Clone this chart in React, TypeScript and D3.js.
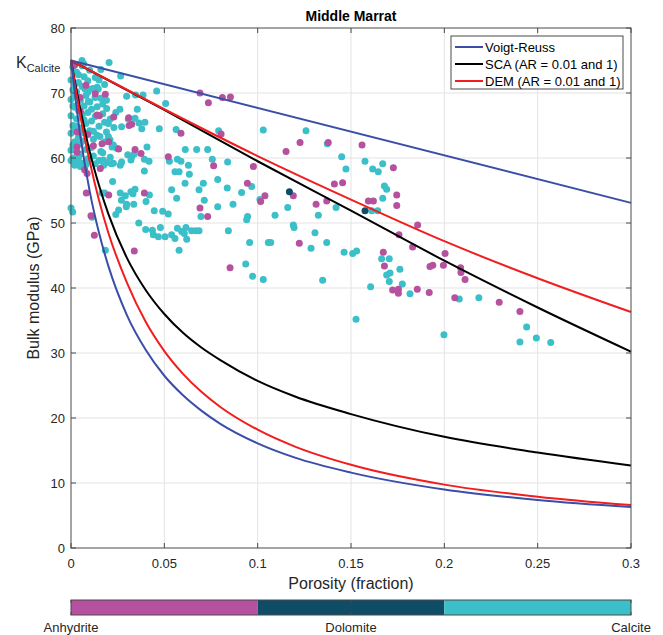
import React from "react";
import * as d3 from "d3";

// ---- model curves ----
const phiLow = [0, 0.005, 0.01, 0.015, 0.02, 0.03, 0.04, 0.05, 0.06, 0.07, 0.08, 0.1, 0.12, 0.15, 0.2, 0.25, 0.3];
const reussK = [75, 63.4, 54.9, 48.5, 43.4, 35.8, 30.5, 26.5, 23.5, 21.1, 19.1, 16.1, 13.9, 11.6, 9.0, 7.4, 6.3];
const demLowK = [75, 66.5, 59.5, 53.5, 48.5, 40.8, 34.8, 30.3, 26.8, 24.0, 21.7, 18.2, 15.6, 12.8, 9.75, 7.9, 6.6];
const scaLowK = [75, 67.5, 61, 55.8, 51.4, 44.6, 39.7, 36.0, 33.1, 30.8, 28.9, 25.7, 23.3, 20.6, 17.1, 14.7, 12.7];

const phiHigh = [0, 0.05, 0.1, 0.15, 0.2, 0.25, 0.3];
const scaHighK = [75, 67.4, 59.5, 51.9, 44.2, 37.0, 30.2];
const demHighK = [75, 67.5, 60.3, 53.6, 47.2, 41.5, 36.3];

const phiVoigt = [0, 0.3];
const voigtK = [75, 53.1];

// ---- well data: [porosity, bulk modulus] ----
const calcitePts: [number, number][] = [
  // dense low-porosity cluster
  [0.000, 72.0], [0.001, 70.5], [0.000, 69.0], [0.002, 67.8], [0.000, 66.5], [0.001, 65.0], [0.000, 63.8], [0.002, 62.5], [0.000, 61.2], [0.001, 60.0], [0.003, 59.3],
  [0.003, 73.2], [0.004, 71.6], [0.003, 70.2], [0.005, 68.9], [0.004, 67.3], [0.003, 66.0], [0.005, 64.6], [0.004, 63.2], [0.003, 61.8], [0.005, 60.6], [0.006, 59.2],
  [0.006, 74.2], [0.007, 72.5], [0.006, 71.0], [0.008, 69.6], [0.007, 68.0], [0.006, 66.7], [0.008, 65.3], [0.007, 63.9], [0.006, 62.6], [0.008, 61.3], [0.009, 59.9],
  [0.010, 73.5], [0.009, 71.9], [0.011, 70.6], [0.010, 68.6], [0.009, 67.0], [0.011, 65.7], [0.010, 64.2], [0.012, 62.9], [0.011, 61.6], [0.012, 60.3], [0.013, 59.1],
  [0.013, 72.4], [0.014, 67.9], [0.013, 66.4], [0.015, 64.9], [0.014, 63.5], [0.016, 61.0], [0.015, 59.6],
  [0.017, 68.3], [0.018, 65.5], [0.019, 64.0], [0.017, 60.8], [0.019, 59.3], [0.021, 60.1], [0.022, 61.7], [0.020, 63.3], [0.023, 64.7], [0.018, 71.3], [0.016, 73.6],
  [0.001, 74.0], [0.002, 71.3], [0.002, 64.3], [0.001, 62.0], [0.004, 60.0], [0.005, 62.2], [0.007, 65.9], [0.009, 70.1], [0.011, 67.5], [0.012, 64.1],
  [0.000, 59.6], [0.002, 58.9], [0.005, 58.7], [0.008, 59.0], [0.001, 68.0], [0.003, 64.9], [0.002, 69.5], [0.004, 72.8],
  [0.014, 70.9], [0.016, 69.2], [0.019, 68.9], [0.015, 72.0], [0.021, 66.0], [0.024, 67.0], [0.017, 66.8], [0.020, 65.3],
  [0.0204, 74.7], [0.0266, 72.6], [0.0059, 75.0], [0.0068, 74.5],
  [0.012, 70.7], [0.0146, 70.6], [0.0075, 70.6], [0.0129, 69.3], [0.0093, 68.7], [0.0191, 67.6], [0.0262, 67.5], [0.0271, 64.8],
  [0.0155, 63.3], [0.0182, 62.5], [0.0209, 62.8], [0.0227, 62.0], [0.0245, 61.5], [0.0271, 59.4], [0.0227, 59.2], [0.0173, 59.7],
  [0.0175, 58.9], [0.0216, 59.1], [0.0264, 58.9], [0.0223, 56.4], [0.0166, 54.6], [0.0180, 54.6], [0.0264, 54.6], [0.0270, 53.5], [0.0291, 54.2],
  [0.000, 52.3], [0.0009, 51.7], [0.0255, 52.0], [0.0296, 52.5], [0.0113, 50.9], [0.0184, 45.8], [0.0240, 51.3],
  // spread
  [0.0459, 70.3], [0.0298, 69.5], [0.0346, 69.7], [0.0386, 69.7], [0.0507, 68.4], [0.0355, 67.5], [0.0307, 66.0], [0.0343, 66.1], [0.0364, 65.4],
  [0.0396, 65.5], [0.0379, 64.5], [0.0473, 64.5], [0.0563, 64.4], [0.0791, 64.2], [0.103, 64.3], [0.0407, 61.7], [0.0304, 60.5], [0.0325, 60.2],
  [0.0339, 60.6], [0.0393, 59.8], [0.0418, 59.5], [0.0321, 59.7], [0.0527, 59.5], [0.0570, 59.8], [0.0589, 59.5], [0.0612, 61.3], [0.0673, 61.3],
  [0.0732, 61.3], [0.0629, 58.9], [0.0757, 59.8], [0.0839, 59.4], [0.0393, 58.0], [0.0557, 57.9], [0.0579, 57.9], [0.0634, 57.5],
  [0.0786, 56.7], [0.0611, 56.1], [0.0709, 56.1], [0.0968, 55.6], [0.0837, 55.4], [0.0321, 54.8], [0.0343, 55.2], [0.0332, 54.5], [0.0420, 54.3],
  [0.0539, 55.1], [0.0686, 55.1], [0.0914, 54.7], [0.0566, 53.8], [0.0714, 53.5], [0.0402, 53.3], [0.0298, 52.9], [0.0336, 52.9], [0.0868, 52.9],
  [0.1012, 53.6], [0.0446, 51.9], [0.0491, 51.8], [0.0521, 51.4], [0.0696, 51.0], [0.0946, 51.0], [0.0941, 50.5], [0.0363, 50.0], [0.0400, 49.0],
  [0.0436, 48.9], [0.0479, 49.3], [0.0441, 48.2], [0.0468, 47.9], [0.0504, 47.9], [0.0539, 48.2], [0.0557, 47.6], [0.0570, 49.2], [0.0593, 48.7],
  [0.0616, 49.3], [0.0607, 48.4], [0.0620, 47.5], [0.0646, 48.8], [0.0668, 48.8], [0.0686, 48.8], [0.0843, 48.8], [0.0957, 47.0], [0.0579, 45.8],
  [0.0936, 43.7], [0.0786, 52.5],
  [0.1259, 64.2], [0.1373, 62.2], [0.145, 60.2], [0.1575, 59.5], [0.167, 59.1], [0.1473, 58.3], [0.1616, 58.3], [0.1646, 57.9],
  [0.1679, 55.7], [0.1691, 55.2], [0.167, 53.8], [0.1611, 51.9], [0.1643, 51.9], [0.142, 52.4], [0.1161, 52.4], [0.1093, 51.2], [0.1325, 51.2],
  [0.1191, 49.7], [0.1195, 49.3], [0.1307, 48.5], [0.1057, 47.0], [0.107, 47.0], [0.137, 47.0], [0.1286, 46.1], [0.1463, 45.5], [0.1509, 45.3],
  [0.153, 45.7], [0.1664, 44.5], [0.1705, 44.5], [0.1762, 42.9], [0.1691, 42.0], [0.1709, 42.3], [0.1348, 41.2], [0.103, 41.3],
  [0.0973, 41.8], [0.1705, 41.0], [0.1605, 40.2], [0.1775, 40.6], [0.1816, 39.1], [0.1527, 35.2], [0.1998, 32.8],
  [0.208, 38.3], [0.2185, 38.5], [0.2441, 34.0], [0.2493, 32.3], [0.2405, 31.7], [0.257, 31.6],
];

const anhydritePts: [number, number][] = [
  [0.002, 74.3], [0.008, 71.2], [0.013, 69.9], [0.0184, 69.8], [0.0048, 69.3], [0.0152, 66.5], [0.0139, 66.6], [0.0229, 66.3], [0.0309, 66.2],
  [0.0032, 64.0], [0.0202, 62.5], [0.0166, 62.2], [0.0255, 61.4], [0.0032, 61.7], [0.0032, 60.9], [0.0073, 58.2], [0.0086, 57.6], [0.0157, 58.4],
  [0.0082, 54.6], [0.0202, 54.3], [0.0107, 51.1], [0.0125, 48.1], [0.005, 67.2], [0.009, 63.6], [0.012, 61.9],
  [0.0691, 70.0], [0.0736, 68.5], [0.0811, 69.3], [0.0854, 69.4], [0.0311, 65.0], [0.0325, 65.2], [0.0589, 63.8], [0.0804, 63.7], [0.0343, 61.3],
  [0.0375, 60.7], [0.0521, 60.2], [0.0764, 58.8], [0.0977, 58.7], [0.0945, 56.1], [0.0393, 54.6], [0.1016, 53.3], [0.0691, 52.3], [0.0732, 51.0],
  [0.0339, 45.7], [0.0852, 43.1],
  [0.1227, 62.4], [0.1152, 61.0], [0.1378, 62.4], [0.1559, 62.0], [0.1727, 58.5], [0.1411, 56.0], [0.1455, 56.2], [0.1745, 54.3], [0.1191, 54.2],
  [0.1039, 54.2], [0.1593, 53.4], [0.162, 53.4], [0.1745, 52.7], [0.1313, 52.9], [0.137, 53.4], [0.1857, 49.7], [0.1757, 48.2], [0.1223, 46.9],
  [0.183, 46.3], [0.1673, 45.5], [0.1679, 43.4], [0.2004, 45.3], [0.1923, 43.3], [0.1938, 43.5], [0.1995, 43.5],
  [0.1723, 39.7], [0.1754, 39.8], [0.1754, 39.2], [0.1855, 39.8], [0.1919, 39.3],
  [0.2087, 43.1], [0.2089, 42.4], [0.2111, 41.3], [0.2056, 38.5], [0.2294, 37.8], [0.2405, 36.4],
];

const dolomitePts: [number, number][] = [[0.117, 54.8], [0.1575, 51.9]];

const xTicks = [0, 0.05, 0.1, 0.15, 0.2, 0.25, 0.3];
const yTicks = [0, 10, 20, 30, 40, 50, 60, 70, 80];
const lithologies = ["Anhydrite", "Dolomite", "Calcite"];
const legendLabels = ["Voigt-Reuss", "SCA (AR = 0.01 and 1)", "DEM (AR = 0.01 and 1)"];

const C_ANH = "#b5519e";
const C_DOL = "#0f4d66";
const C_CAL = "#3bbfc8";
const C_BLUE = "#3a4ea8";
const C_BLACK = "#000000";
const C_RED = "#f01e1e";
const FONT = "'Liberation Sans', Arial, Helvetica, sans-serif";

export default function App() {
  const L = 71, R = 631, T = 28, B = 548;
  const x = d3.scaleLinear().domain([0, 0.3]).range([L, R]);
  const y = d3.scaleLinear().domain([0, 80]).range([B, T]);

  const mk = (phis: number[], ks: number[]) => {
    const ln = d3.line<number>().x((_, i) => x(phis[i])).y((k) => y(k)).curve(d3.curveMonotoneX);
    return ln(ks) || "";
  };

  const curves = [
    { d: mk(phiVoigt, voigtK), c: C_BLUE },
    { d: mk(phiLow, reussK), c: C_BLUE },
    { d: mk(phiHigh, demHighK), c: C_RED },
    { d: mk(phiLow, demLowK), c: C_RED },
    { d: mk(phiHigh, scaHighK), c: C_BLACK },
    { d: mk(phiLow, scaLowK), c: C_BLACK },
  ];
  const order = [4, 5, 2, 3, 0, 1];

  const cb = d3.scaleBand().domain(lithologies).range([L, R]);
  const cbColors = [C_ANH, C_DOL, C_CAL];
  const cbLabelX = d3.scalePoint().domain(lithologies).range([L, R]);

  const r = 3.5;
  const axisCol = "#4a4a4a";
  const textCol = "#262626";

  return (
    <div style={{ position: "absolute", left: 0, top: 0 }}>
      <svg width={663} height={635} style={{ display: "block", background: "#fff" }} fontFamily={FONT}>
        <rect x={0} y={0} width={663} height={635} fill="#fff" />
        <defs>
          <clipPath id="clipPlot">
            <rect x={L - 4} y={T} width={R - L + 4} height={B - T} />
          </clipPath>
        </defs>
        {/* grid */}
        {xTicks.slice(1, -1).map((t) => (
          <line key={"gx" + t} x1={x(t)} x2={x(t)} y1={T} y2={B} stroke="#e3e3e3" strokeWidth={1} />
        ))}
        {yTicks.slice(1, -1).map((t) => (
          <line key={"gy" + t} x1={L} x2={R} y1={y(t)} y2={y(t)} stroke="#e3e3e3" strokeWidth={1} />
        ))}
        {/* scatter */}
        <g clipPath="url(#clipPlot)">
          {calcitePts.map((p, i) => (
            <circle key={"c" + i} cx={x(p[0])} cy={y(p[1])} r={r} fill={C_CAL} />
          ))}
          {anhydritePts.map((p, i) => (
            <circle key={"a" + i} cx={x(p[0])} cy={y(p[1])} r={r} fill={C_ANH} />
          ))}
          {dolomitePts.map((p, i) => (
            <circle key={"d" + i} cx={x(p[0])} cy={y(p[1])} r={r} fill={C_DOL} />
          ))}
        </g>
        {/* curves */}
        {order.map((i) => (
          <path key={"cv" + i} d={curves[i].d} fill="none" stroke={curves[i].c} strokeWidth={2} />
        ))}
        {/* frame */}
        <rect x={L} y={T} width={R - L} height={B - T} fill="none" stroke={axisCol} strokeWidth={1} />
        {/* ticks */}
        {xTicks.map((t) => (
          <g key={"xt" + t}>
            <line x1={x(t)} x2={x(t)} y1={B} y2={B - 5} stroke={axisCol} />
            <line x1={x(t)} x2={x(t)} y1={T} y2={T + 5} stroke={axisCol} />
            <text x={x(t)} y={567.5} fontSize={13} textAnchor="middle" fill={textCol}>
              {String(t)}
            </text>
          </g>
        ))}
        {yTicks.map((t) => (
          <g key={"yt" + t}>
            <line x1={L} x2={L + 5} y1={y(t)} y2={y(t)} stroke={axisCol} />
            <line x1={R} x2={R - 5} y1={y(t)} y2={y(t)} stroke={axisCol} />
            <text x={L - 6} y={y(t) + 4.5} fontSize={13} textAnchor="end" fill={textCol}>
              {String(t)}
            </text>
          </g>
        ))}
        {/* K calcite */}
        <text x={16} y={y(75) + 7} fontSize={16} fill={textCol}>
          K<tspan fontSize={11} dy={4}>Calcite</tspan>
        </text>
        {/* title */}
        <text x={(L + R) / 2} y={21} fontSize={14} fontWeight="bold" textAnchor="middle" fill="#000">
          Middle Marrat
        </text>
        {/* axis labels */}
        <text x={(L + R) / 2} y={589} fontSize={16} textAnchor="middle" fill={textCol}>
          Porosity (fraction)
        </text>
        <text transform={`translate(39,${(T + B) / 2}) rotate(-90)`} fontSize={16} textAnchor="middle" fill={textCol}>
          Bulk modulus (GPa)
        </text>
        {/* legend */}
        <g>
          <rect x={451} y={36} width={172} height={53} fill="#fff" stroke={axisCol} strokeWidth={1} />
          {legendLabels.map((lab, i) => {
            const cy = 47 + i * 17;
            const col = [C_BLUE, C_BLACK, C_RED][i];
            return (
              <g key={lab}>
                <line x1={455} x2={483} y1={cy} y2={cy} stroke={col} strokeWidth={2} />
                <text x={485} y={cy + 4.5} fontSize={13} fill="#000">
                  {lab}
                </text>
              </g>
            );
          })}
        </g>
        {/* colorbar */}
        {lithologies.map((lit, i) => (
          <rect key={"cb" + lit} x={cb(lit)} y={600} width={cb.bandwidth()} height={15} fill={cbColors[i]} />
        ))}
        <rect x={L} y={600} width={R - L} height={15} fill="none" stroke={axisCol} strokeWidth={1} />
        {lithologies.map((lit) => (
          <g key={"cbl" + lit}>
            <line x1={cbLabelX(lit)} x2={cbLabelX(lit)} y1={600} y2={603} stroke={axisCol} />
            <line x1={cbLabelX(lit)} x2={cbLabelX(lit)} y1={615} y2={612} stroke={axisCol} />
            <text x={cbLabelX(lit)} y={632} fontSize={13} textAnchor="middle" fill={textCol}>
              {lit}
            </text>
          </g>
        ))}
      </svg>
    </div>
  );
}
